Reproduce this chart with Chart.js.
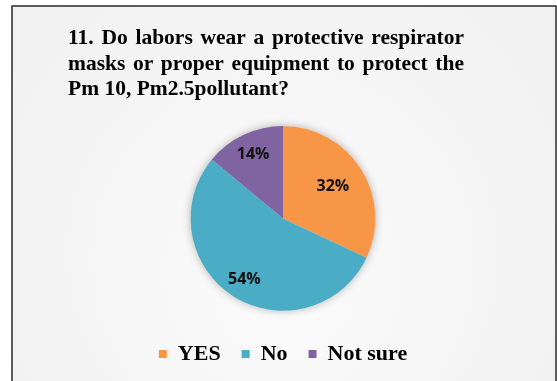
<!DOCTYPE html>
<html>
<head>
<meta charset="utf-8">
<script src="https://cdn.jsdelivr.net/npm/chart.js@4/dist/chart.umd.min.js"></script>
<style>
  html, body { margin: 0; padding: 0; background: #ffffff; }
  #wrap { position: relative; width: 557px; height: 381px; }
</style>
</head>
<body>
<div id="wrap"><canvas id="c" width="557" height="381"></canvas></div>
<script>
// Survey question 11 – answer shares (percent)
const categories = ['YES', 'No', 'Not sure'];
const shares = [32, 54, 14];
const sliceColors = ['#F79646', '#4BACC6', '#8064A2'];
const titleLines = [
  '11. Do labors wear a protective respirator',
  'masks or proper equipment to protect the',
  'Pm 10, Pm2.5pollutant?'
];

// Panel background with frame and a soft light spot behind the pie
const panelPlugin = {
  id: 'panel',
  beforeDraw(chart) {
    const ctx = chart.ctx;
    ctx.save();
    ctx.fillStyle = '#ffffff';
    ctx.fillRect(0, 0, chart.width, chart.height);
    const x0 = 12, y0 = 6, x1 = 556, y1 = 390;
    const g = ctx.createRadialGradient(283, 300, 10, 283, 230, 330);
    g.addColorStop(0, '#fbfbfb');
    g.addColorStop(1, '#f1f1f1');
    ctx.fillStyle = g;
    ctx.fillRect(x0, y0, x1 - x0, y1 - y0);
    ctx.strokeStyle = '#2a2a2a';
    ctx.lineWidth = 1.5;
    ctx.strokeRect(x0, y0, x1 - x0, y1 - y0);
    ctx.restore();
  }
};

// Justified multi-line heading (last line left aligned)
const headingPlugin = {
  id: 'heading',
  afterDraw(chart) {
    const ctx = chart.ctx;
    const left = 68, right = 464, baseY = 44, lineGap = 25.5;
    ctx.save();
    ctx.font = 'bold 21.5px "Liberation Serif", "Times New Roman", serif';
    ctx.fillStyle = '#000000';
    ctx.textBaseline = 'alphabetic';
    ctx.textAlign = 'left';
    titleLines.forEach((line, i) => {
      const y = baseY + i * lineGap;
      if (i === titleLines.length - 1) {
        ctx.fillText(line, left, y);
        return;
      }
      const words = line.split(' ');
      const widths = words.map(w => ctx.measureText(w).width);
      const total = widths.reduce((a, b) => a + b, 0);
      const gap = (right - left - total) / (words.length - 1);
      let x = left;
      words.forEach((w, k) => {
        ctx.fillText(w, x, y);
        x += widths[k] + gap;
      });
    });
    ctx.restore();
  }
};

// Soft shadow under the whole pie
const pieShadowPlugin = {
  id: 'pieShadow',
  beforeDatasetsDraw(chart) {
    const arc = chart.getDatasetMeta(0).data[0];
    if (!arc) return;
    const { x, y, outerRadius } = arc.getProps(['x', 'y', 'outerRadius'], true);
    const ctx = chart.ctx;
    ctx.save();
    ctx.shadowColor = 'rgba(0,0,0,0.28)';
    ctx.shadowBlur = 9;
    ctx.beginPath();
    ctx.arc(x, y, outerRadius, 0, Math.PI * 2);
    ctx.fillStyle = '#eeeeee';
    ctx.fill();
    ctx.restore();
  }
};

// Percentage labels inside the slices
const labelRadius = [0.64, 0.78, 0.76];
const sliceLabelPlugin = {
  id: 'sliceLabels',
  afterDatasetsDraw(chart) {
    const ctx = chart.ctx;
    const meta = chart.getDatasetMeta(0);
    ctx.save();
    ctx.font = 'bold 16px "Open Sans", Lato, sans-serif';
    ctx.fillStyle = '#111111';
    ctx.textAlign = 'center';
    ctx.textBaseline = 'middle';
    meta.data.forEach((arc, i) => {
      const p = arc.getProps(['x', 'y', 'startAngle', 'endAngle', 'outerRadius'], true);
      const mid = (p.startAngle + p.endAngle) / 2;
      const r = p.outerRadius * labelRadius[i];
      ctx.fillText(shares[i] + '%', p.x + Math.cos(mid) * r, p.y + Math.sin(mid) * r);
    });
    ctx.restore();
  }
};

new Chart(document.getElementById('c'), {
  type: 'pie',
  data: {
    labels: categories,
    datasets: [{
      data: shares,
      backgroundColor: sliceColors,
      borderWidth: 0
    }]
  },
  options: {
    responsive: false,
    animation: false,
    layout: { padding: { top: 126, left: 9, right: 0, bottom: 6 } },
    plugins: {
      title: { display: false },
      tooltip: { enabled: false },
      legend: {
        display: true,
        position: 'bottom',
        title: { display: true, text: '', font: { size: 1 }, padding: { top: 0, bottom: 10 } },
        labels: {
          boxWidth: 8,
          boxHeight: 8,
          padding: 21,
          color: '#000000',
          font: { family: '"Liberation Serif", "Times New Roman", serif', size: 22, weight: 'bold' }
        }
      }
    }
  },
  plugins: [panelPlugin, pieShadowPlugin, sliceLabelPlugin, headingPlugin]
});
</script>
</body>
</html>
